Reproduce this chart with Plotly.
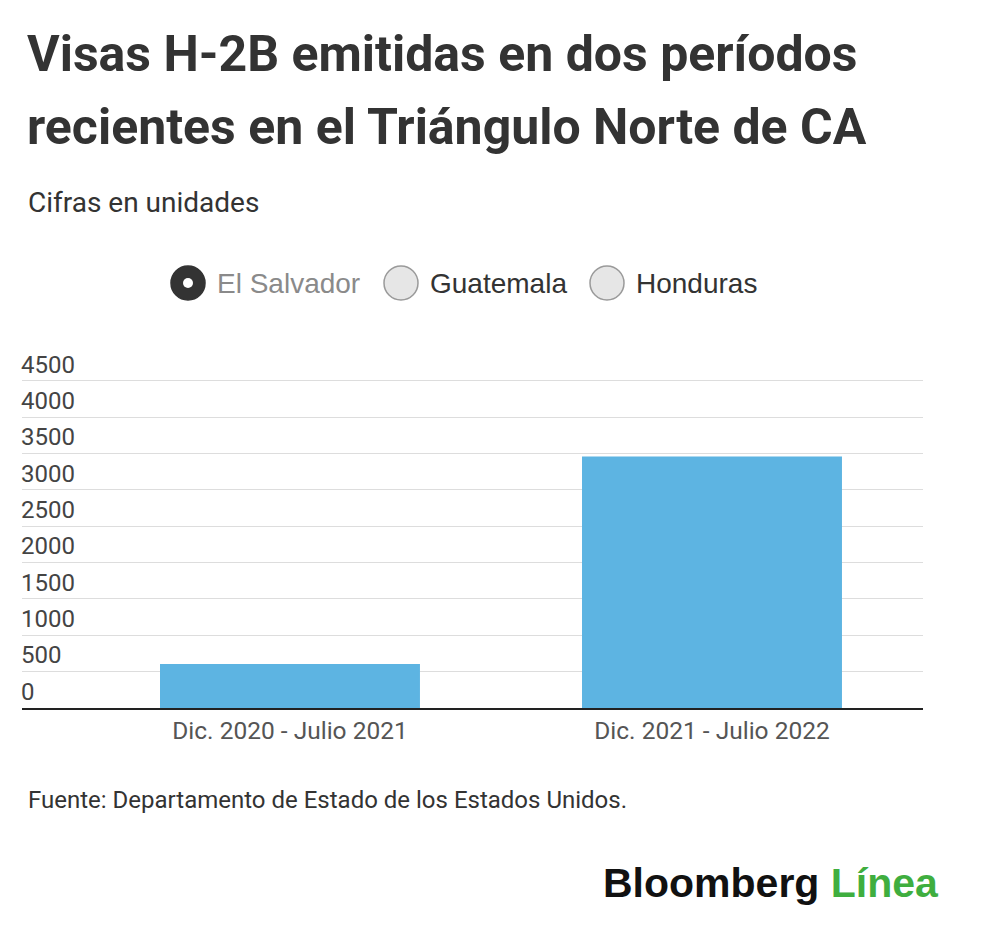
"""
Visas H-2B emitidas en el Triángulo Norte de CA (réplica en Plotly).
"""
import plotly.graph_objects as go

# ══════════════════════════════════════════════════════════
# Datos
# ══════════════════════════════════════════════════════════

periodos = ["Dic. 2020 - Julio 2021", "Dic. 2021 - Julio 2022"]
visas_el_salvador = [605, 3460]
paises = ["El Salvador", "Guatemala", "Honduras"]
pais_activo = "El Salvador"
y_ticks = [0, 500, 1000, 1500, 2000, 2500, 3000, 3500, 4000, 4500]

titulo = ["Visas H-2B emitidas en dos períodos",
          "recientes en el Triángulo Norte de CA"]
subtitulo = "Cifras en unidades"
fuente = "Fuente: Departamento de Estado de los Estados Unidos."

# ══════════════════════════════════════════════════════════
# Geometría (px de la ventana; la página añade 8 px de margen)
# ══════════════════════════════════════════════════════════

OFF = 8
W, H = 1000 - OFF, 937 - OFF
# el borde superior queda 2 px por encima de la línea de 4500 para que se dibuje
PLOT_L, PLOT_R, PLOT_T, PLOT_B = 22 - OFF, 923 - OFF, 379 - OFF, 708 - OFF
Y_MAX = 4527

BAR_COLOR = "#5db4e2"
TEXT_DARK = "#333333"


def px(x):
    return (x - OFF - PLOT_L) / (PLOT_R - PLOT_L)


def py(y):
    return (PLOT_B - (y - OFF)) / (PLOT_B - PLOT_T)


def texto(s, x, y, size, color=TEXT_DARK, family="Roboto", anchor="left"):
    return dict(
        text=s, xref="paper", yref="paper", x=px(x), y=py(y),
        xanchor=anchor, yanchor="middle", showarrow=False,
        font=dict(family=family, size=size, color=color),
    )


fig = go.Figure()
fig.add_trace(
    go.Bar(
        x=periodos,
        y=visas_el_salvador,
        name=pais_activo,
        marker=dict(color=BAR_COLOR, line=dict(width=0)),
        width=0.616,
        hovertemplate="%{x}: %{y}<extra>" + pais_activo + "</extra>",
    )
)

# ── selector tipo "radio" ─────────────────────────────────
radio_x = [188, 401, 607]
radio_y = 283
shapes = []
annotations = []
for nombre, cx in zip(paises, radio_x):
    activo = nombre == pais_activo
    shapes.append(dict(
        type="circle", xref="paper", yref="paper",
        xsizemode="pixel", ysizemode="pixel",
        xanchor=px(cx), yanchor=py(radio_y),
        x0=-17, x1=17, y0=-17, y1=17,
        fillcolor="#333333" if activo else "#e6e6e6",
        line=dict(color="#333333" if activo else "#9a9a9a", width=1.5),
    ))
    if activo:
        shapes.append(dict(
            type="circle", xref="paper", yref="paper",
            xsizemode="pixel", ysizemode="pixel",
            xanchor=px(cx), yanchor=py(radio_y),
            x0=-5, x1=5, y0=-5, y1=5,
            fillcolor="white", line=dict(width=0),
        ))
    annotations.append(texto(nombre, cx + 27, radio_y, 28,
                             color="#8a8a8a" if activo else TEXT_DARK,
                             family="Liberation Sans, Arial"))

# ── textos ────────────────────────────────────────────────
annotations.append(texto("<b>" + titulo[0] + "</b>", 25, 54, 50))
annotations.append(texto("<b>" + titulo[1] + "</b>", 25, 127, 50))
annotations.append(texto(subtitulo, 26, 202, 28))
annotations.append(texto(fuente, 26, 800, 24))
annotations.append(texto(
    "<b>Bloomberg</b> <b><span style='color:#3fae3f'>Línea</span></b>",
    941, 883, 41, color="#111111", family="Liberation Sans, Arial", anchor="right",
))

fig.update_layout(
    width=W, height=H,
    margin=dict(l=PLOT_L, r=W - PLOT_R, t=PLOT_T, b=H - PLOT_B, autoexpand=False),
    paper_bgcolor="white", plot_bgcolor="white",
    showlegend=False,
    xaxis=dict(
        type="category",
        range=[-0.635, 1.5],
        showline=True, linecolor="#222222", linewidth=2,
        showgrid=False, ticks="",
        tickfont=dict(family="Roboto", size=24.5, color="#555555"),
        fixedrange=True,
    ),
    yaxis=dict(
        range=[0, Y_MAX],
        tickvals=y_ticks,
        ticklabelposition="inside top",
        ticklabeloverflow="allow",
        ticklabelstandoff=-4,
        showgrid=True, gridcolor="#dddddd", gridwidth=1,
        zeroline=False, showline=False, ticks="",
        tickfont=dict(family="Roboto", size=24, color="#444444"),
        fixedrange=True,
    ),
    shapes=shapes,
    annotations=annotations,
)

fig.write_html("out.html")
